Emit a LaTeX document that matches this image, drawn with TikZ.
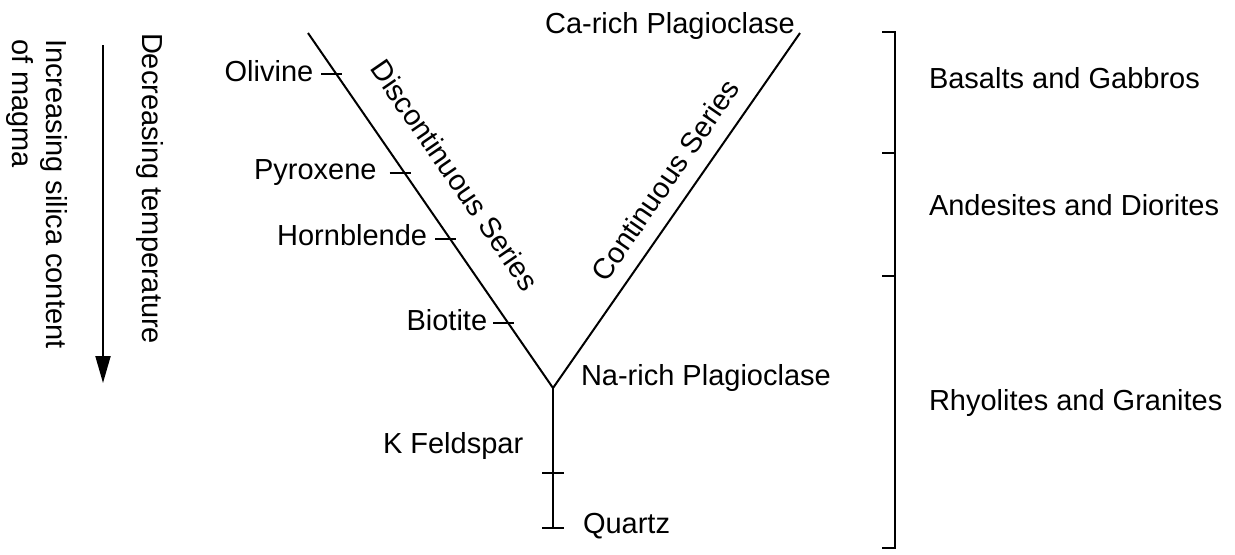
\documentclass[tikz,border=0pt]{standalone}
\usepackage{fontspec}
\setmainfont{Liberation Sans}
\usetikzlibrary{arrows.meta, calc, positioning}

\begin{document}
\begin{tikzpicture}[x=0.5pt, y=-0.5pt, line width=1pt,
  lbl/.style={font=\fontsize{14.5}{17}\selectfont, inner sep=0pt},
  mtick/.style={line width=1pt}]
\useasboundingbox (0,0) rectangle (1235,554);
% temperature / silica arrow
\coordinate (arrtop) at (103,45);
\coordinate (arrbot) at (103,383);
\draw[-{Triangle[length=13.5pt,width=7.5pt]}] (arrtop) -- (arrbot);
\node[lbl, rotate=-90, anchor=base west] (temp) at (142,32) {Decreasing temperature};
\node[lbl, rotate=-90, align=left, anchor=north west] (silica) at (69,38) {Increasing silica content\\of magma};
% reaction series lines
\coordinate (distop) at (308,33);
\coordinate (vertex) at (553,388);
\coordinate (contop) at (800,33);
\coordinate (bottom) at (553,528);
\coordinate (kfs) at (553,473);
\draw (distop) -- (vertex) -- (contop);
\draw (vertex) -- (bottom);
% minerals of the discontinuous series
\foreach \p/\name/\gap/\txt in {0.1155/olv/3.5/Olivine, 0.394/pyx/6/Pyroxene, 0.580/hbl/3.5/Hornblende, 0.817/bio/2.5/Biotite} {
  \path (distop) -- (vertex) coordinate[pos=\p] (\name);
  \draw[mtick] ([xshift=-7.5pt]\name) -- ([xshift=3pt]\name);
  \node[lbl, anchor=base east] (\name lbl) at ([xshift=-7.5pt-\gap pt, yshift=-3.5pt]\name) {\txt};
}
\draw[mtick] ([xshift=-5.5pt]kfs) -- ([xshift=5.5pt]kfs);
\draw[mtick] ([xshift=-5.5pt]bottom) -- ([xshift=5.5pt]bottom);
\node[lbl, rotate=-55.4] (disc) at (455,175) {Discontinuous Series};
\node[lbl, rotate=55.4] (cont) at (665,180) {Continuous Series};
\node[lbl, anchor=base] (carich) at (670,33) {Ca-rich Plagioclase};
\node[lbl, anchor=base west] (narich) at (580,385) {Na-rich Plagioclase};
\node[lbl, anchor=base west] (kfelds) at (382,453) {K Feldspar};
\node[lbl, anchor=base west] (qtz) at (582,533) {Quartz};
% rock types
\coordinate (brtop) at (895,32);
\coordinate (brone) at (895,153);
\coordinate (brtwo) at (895,276);
\coordinate (brbot) at (895,548);
\draw ([xshift=-6.5pt]brtop) -- (brtop) -- (brbot) -- ([xshift=-6.5pt]brbot);
\draw ([xshift=-6.5pt]brone) -- (brone);
\draw ([xshift=-6.5pt]brtwo) -- (brtwo);
\node[lbl, anchor=base west] (basalt) at (928,88) {Basalts and Gabbros};
\node[lbl, anchor=base west] (andes) at (928,215) {Andesites and Diorites};
\node[lbl, anchor=base west] (rhyo) at (928,410) {Rhyolites and Granites};
\end{tikzpicture}
\end{document}
